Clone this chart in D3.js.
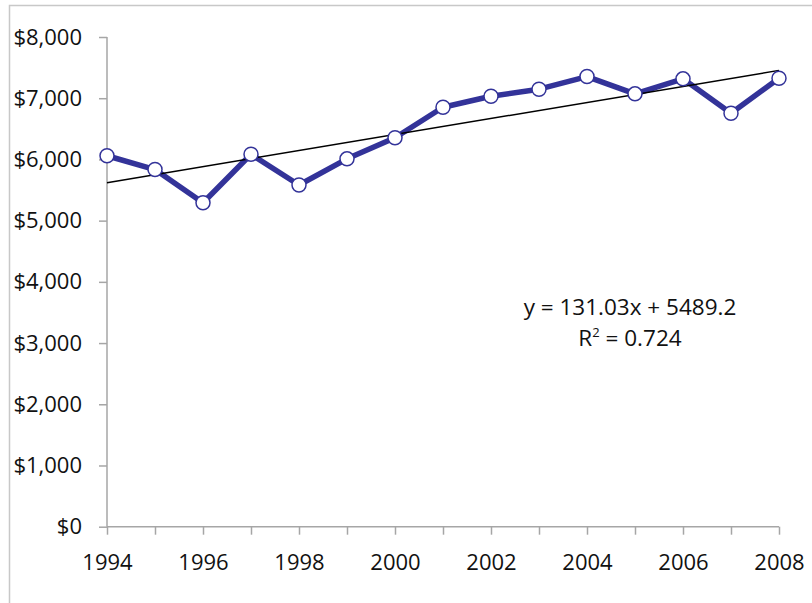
<!DOCTYPE html>
<html>
<head>
<meta charset="utf-8">
<script src="https://cdn.jsdelivr.net/npm/d3@7"></script>
<style>
body { margin: 0; background: #fff; }
text { font-family: "Open Sans", "Noto Sans", sans-serif; fill: #111; }
</style>
</head>
<body>
<svg width="812" height="603"></svg>
<script>
var years = [1994, 1995, 1996, 1997, 1998, 1999, 2000, 2001, 2002, 2003, 2004, 2005, 2006, 2007, 2008];
var values = [6060, 5835, 5292, 6085, 5582, 6010, 6354, 6853, 7032, 7147, 7354, 7072, 7317, 6755, 7326];
var yTicks = [0, 1000, 2000, 3000, 4000, 5000, 6000, 7000, 8000];
var xLabels = [1994, 1996, 1998, 2000, 2002, 2004, 2006, 2008];

// trendline from the equation shown on the chart (x = 1..15)
var slope = 131.03, intercept = 5489.2, r2 = 0.724;

var svg = d3.select("svg");

// outer frame (top and left edges visible)
svg.append("path")
	.attr("d", "M9.5,603V5.5H812")
	.attr("fill", "none")
	.attr("stroke", "#c8c8c8")
	.attr("stroke-width", 1.5);

var x = d3.scaleLinear().domain([1994, 2008]).range([107, 779]);
var y = d3.scaleLinear().domain([0, 8000]).range([526.7, 37]);

var fmt = d3.format("$,");

var yAxis = svg.append("g")
	.attr("transform", "translate(107,0)")
	.call(d3.axisLeft(y).tickValues(yTicks).tickFormat(fmt).tickSize(8).tickPadding(17));

var xAxis = svg.append("g")
	.attr("transform", "translate(0,526.7)")
	.call(d3.axisBottom(x).tickValues(years)
		.tickFormat(d => xLabels.indexOf(d) >= 0 ? d : "")
		.tickSize(8).tickPadding(20));

svg.selectAll(".domain").attr("stroke", "#a6a6a6").attr("stroke-width", 1.5);
svg.selectAll(".tick line").attr("stroke", "#a6a6a6").attr("stroke-width", 1.5);
svg.selectAll(".tick text").style("font-size", "22px").attr("fill", "#111");
yAxis.select(".domain").attr("d", "M0,37V526.7");
xAxis.select(".domain").attr("d", "M107,0H779");

// data line
var line = d3.line().x((d, i) => x(years[i])).y(d => y(d));
svg.append("path")
	.datum(values)
	.attr("d", line)
	.attr("fill", "none")
	.attr("stroke", "#333399")
	.attr("stroke-width", 5.5)
	.attr("stroke-linejoin", "round");

// linear trendline
svg.append("line")
	.attr("x1", x(years[0])).attr("y1", y(intercept + slope * 1))
	.attr("x2", x(years[years.length - 1])).attr("y2", y(intercept + slope * years.length))
	.attr("stroke", "#000")
	.attr("stroke-width", 1.5);

// markers
svg.selectAll("circle")
	.data(values)
	.enter()
	.append("circle")
	.attr("cx", (d, i) => x(years[i]))
	.attr("cy", d => y(d))
	.attr("r", 7)
	.attr("fill", "#fff")
	.attr("stroke", "#333399")
	.attr("stroke-width", 1.5);

// equation label, two separate lines
svg.append("text")
	.attr("x", 630).attr("y", 315)
	.attr("text-anchor", "middle")
	.style("font-size", "22.5px")
	.text("y = " + slope + "x + " + intercept);
var r = svg.append("text")
	.attr("x", 630).attr("y", 346)
	.attr("text-anchor", "middle")
	.style("font-size", "22.5px");
r.append("tspan").text("R");
r.append("tspan").attr("dy", -9).style("font-size", "13px").text("2");
r.append("tspan").attr("dy", 9).text(" = " + r2);
</script>
</body>
</html>
